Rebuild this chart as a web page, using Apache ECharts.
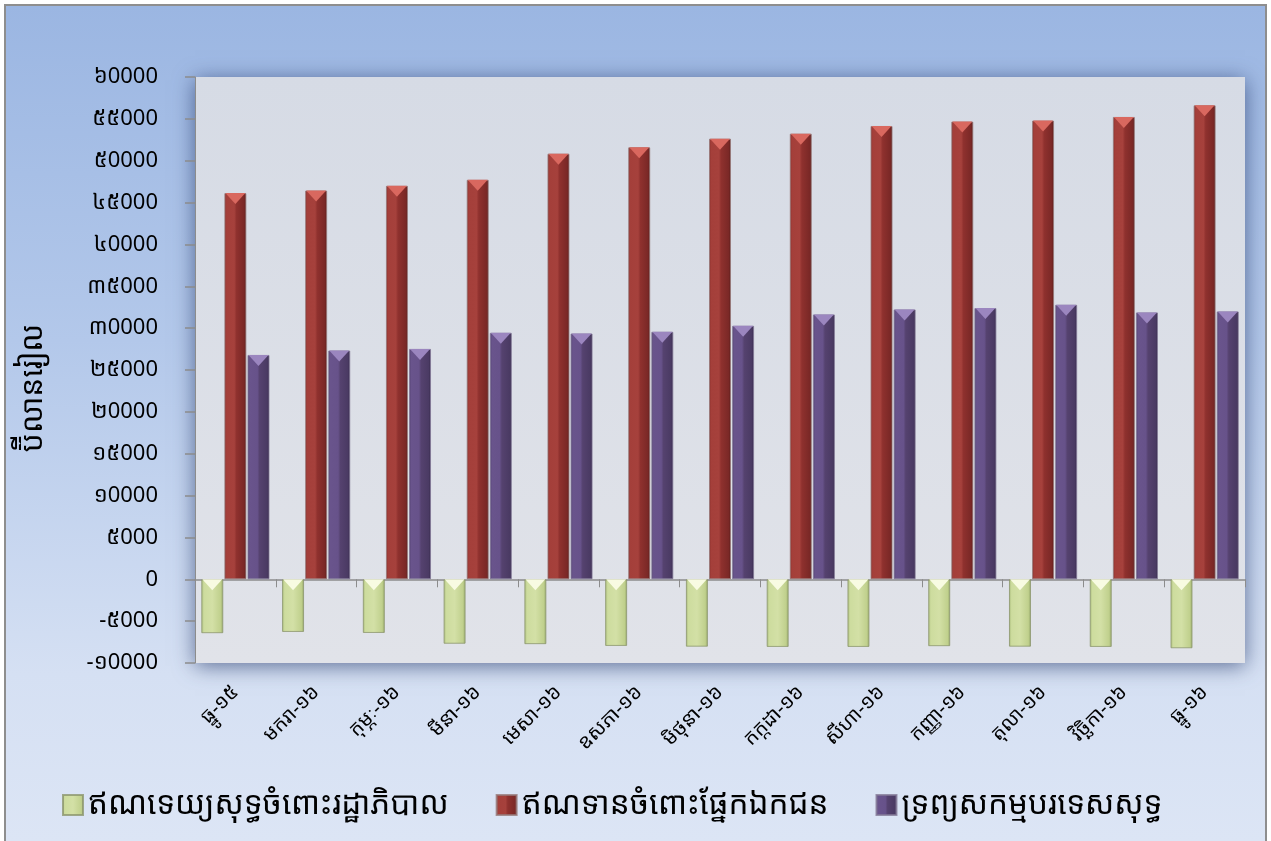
<!DOCTYPE html>
<html>
<head>
<meta charset="utf-8">
<title>chart</title>
<script src="https://cdn.jsdelivr.net/npm/echarts@6/dist/echarts.min.js"></script>
<style>
html, body { margin: 0; padding: 0; background: #fff; }
#wrap {
    position: absolute; left: 4px; top: 4px; width: 1263px; height: 837px;
    border: 2px solid #8e8e8e; border-bottom: none; box-sizing: border-box;
    background: linear-gradient(to bottom, #9bb6e2 0%, #b3c8ea 40%, #d5e0f3 80%, #dce5f5 100%);
}
#main { position: absolute; left: -6px; top: -6px; width: 1271px; height: 841px; }
</style>
</head>
<body>
<div id="wrap"><div id="main"></div></div>
<script>
var categories = ['ធ្នូ-១៥', 'មករា-១៦', 'កុម្ភៈ-១៦', 'មីនា-១៦', 'មេសា-១៦', 'ឧសភា-១៦', 'មិថុនា-១៦',
    'កក្កដា-១៦', 'សីហា-១៦', 'កញ្ញា-១៦', 'តុលា-១៦', 'វិច្ឆិកា-១៦', 'ធ្នូ-១៦'];
var seriesNames = ['ឥណទេយ្យសុទ្ធចំពោះរដ្ឋាភិបាល', 'ឥណទានចំពោះផ្នែកឯកជន', 'ទ្រព្យសកម្មបរទេសសុទ្ធ'];
var govData = [-6440, -6290, -6410, -7700, -7750, -7960, -8050, -8080, -8080, -7990, -8050, -8080, -8240];
var privateData = [46130, 46440, 47000, 47720, 50840, 51600, 52630, 53230, 54150, 54670, 54790, 55230, 56620];
var foreignData = [26800, 27330, 27520, 29440, 29360, 29560, 30280, 31640, 32240, 32400, 32790, 31880, 32000];
var yMin = -10000, yMax = 60000, yStep = 5000;
var axisName = 'ប៊ីលានរៀល';

var khmerDigits = ['0', '១', '២', '៣', '៤', '៥', '៦', '៧', '៨', '៩'];
function toKhmer(v) {
    return String(v).replace(/[0-9]/g, function (d) { return khmerDigits[+d]; });
}

var khFont = '"Noto Sans Khmer", "Khmer OS", "Khmer OS System", "DejaVu Sans", sans-serif';

function hGrad(stops) {
    return new echarts.graphic.LinearGradient(0, 0, 1, 0, stops.map(function (s) {
        return { offset: s[0], color: s[1] };
    }));
}

var greenFill = hGrad([[0, '#a9bb7a'], [0.12, '#cddc9e'], [0.5, '#d3e0a6'], [0.88, '#c0d08d'], [1, '#95a768']]);
var redFill = hGrad([[0, '#8a2f2c'], [0.1, '#a43f3a'], [0.45, '#a6413c'], [0.55, '#8f312e'], [0.9, '#7a2826'], [1, '#561b19']]);
var purpleFill = hGrad([[0, '#514070'], [0.1, '#69548c'], [0.45, '#67528a'], [0.55, '#55426f'], [0.9, '#4a3a63'], [1, '#332747']]);

var barW = 22;
var triDown = 'path://M0,0L20,0L10,10Z';
// negative bars get their symbol flipped, so the green cap is drawn pointing up
var triUp = 'path://M0,10L20,10L10,0Z';

var myChart = echarts.init(document.getElementById('main'));

function capSeries(data, pos, sym, color) {
    return {
        type: 'pictorialBar',
        data: data,
        barWidth: barW,
        barGap: '5%',
        symbol: sym,
        symbolSize: [barW - 2, 11],
        symbolPosition: pos,
        z: 10,
        itemStyle: { color: color },
        silent: true
    };
}

var option = {
    animation: false,
    textStyle: { fontFamily: khFont },
    graphic: [{
        type: 'text',
        x: 33,
        y: 388,
        rotation: Math.PI / 2,
        style: {
            text: axisName,
            font: '30px ' + khFont,
            fill: '#000',
            align: 'center',
            verticalAlign: 'middle'
        }
    }],
    grid: {
        left: 195, right: 26, top: 77, bottom: 178,
        show: true,
        borderWidth: 0,
        backgroundColor: new echarts.graphic.LinearGradient(0, 0, 0, 1, [
            { offset: 0, color: '#d6dbe5' }, { offset: 1, color: '#e1e3e9' }
        ]),
        shadowBlur: 20,
        shadowColor: 'rgba(30,50,100,0.65)',
        shadowOffsetX: 0,
        shadowOffsetY: 3
    },
    legend: {
        data: seriesNames,
        left: 57,
        top: 784,
        icon: 'rect',
        itemWidth: 20,
        itemHeight: 20,
        itemGap: 47,
        textStyle: { fontSize: 31.5, color: '#000', fontFamily: khFont }
    },
    xAxis: [{
        type: 'category',
        data: categories,
        axisLine: { show: false, onZero: false },
        axisTick: { show: false },
        axisLabel: {
            rotate: 45,
            margin: 26,
            fontSize: 20,
            color: '#000',
            fontFamily: khFont
        }
    }, {
        type: 'category',
        data: categories,
        position: 'bottom',
        axisLine: { show: true, onZero: true, onZeroAxisIndex: 0, lineStyle: { color: '#8c8c8c', width: 1.5 } },
        axisTick: { show: true, length: 8, lineStyle: { color: '#8c8c8c' } },
        axisLabel: { show: false }
    }],
    yAxis: {
        type: 'value',
        min: yMin,
        max: yMax,
        interval: yStep,
        axisLine: { show: true, lineStyle: { color: '#8c8c8c' } },
        axisTick: { show: true, length: 10, lineStyle: { color: '#8c8c8c', width: 1.5 } },
        splitLine: { show: false },
        axisLabel: {
            margin: 37,
            fontSize: 22,
            color: '#000',
            fontFamily: khFont,
            formatter: function (v) { return v < 0 ? '-' + toKhmer(-v) : toKhmer(v); }
        }
    },
    series: [{
        name: seriesNames[0],
        type: 'bar',
        data: govData,
        barWidth: barW,
        barGap: '5%',
        itemStyle: { color: greenFill, borderColor: 'rgba(140,150,110,0.8)', borderWidth: 1 }
    }, {
        name: seriesNames[1],
        type: 'bar',
        data: privateData,
        barWidth: barW,
        barGap: '5%',
        itemStyle: { color: redFill, borderColor: 'rgba(150,120,120,0.8)', borderWidth: 1 }
    }, {
        name: seriesNames[2],
        type: 'bar',
        data: foreignData,
        barWidth: barW,
        barGap: '5%',
        itemStyle: { color: purpleFill, borderColor: 'rgba(130,120,150,0.8)', borderWidth: 1 }
    },
        capSeries(govData, 'start', triUp, '#f8fbe2'),
        capSeries(privateData, 'end', triDown, '#d9685f'),
        capSeries(foreignData, 'end', triDown, '#9b86bf')
    ]
};

myChart.setOption(option);
</script>
</body>
</html>
